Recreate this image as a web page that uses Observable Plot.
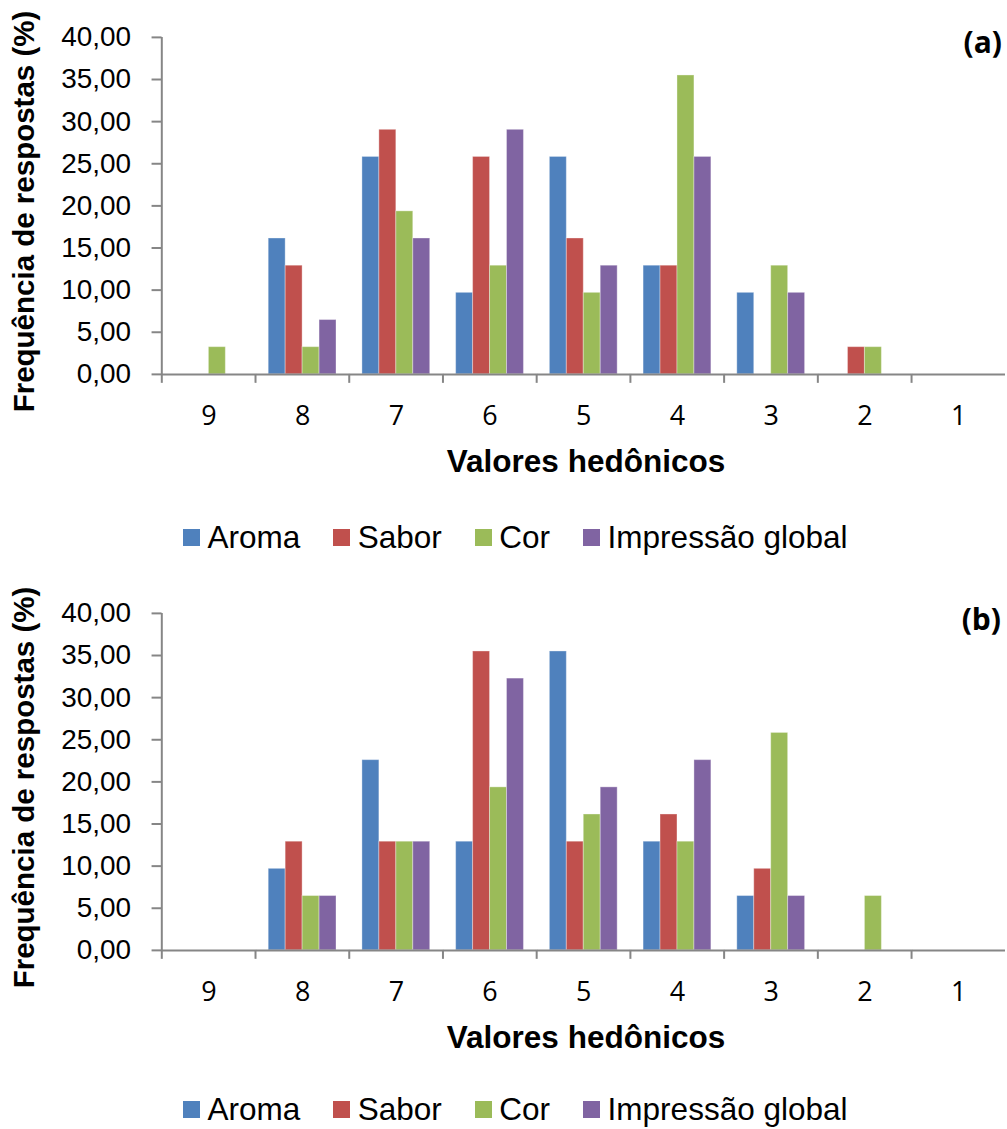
<!DOCTYPE html>
<html>
<head>
<meta charset="utf-8">
<script src="https://cdn.jsdelivr.net/npm/d3@7"></script>
<script src="https://cdn.jsdelivr.net/npm/@observablehq/plot@0.6"></script>
<style>
  body { margin: 0; background: #fff; }
  #root { position: relative; width: 1007px; height: 1129px; overflow: hidden; background: #fff; }
  .panel { position: absolute; left: 0; }
  .legend { position: absolute; left: 183px; display: flex; align-items: center; height: 31px;
            font-family: "Liberation Sans", Arial, sans-serif; font-size: 31.5px; line-height: 31px; color: #000; white-space: nowrap; }
  .legend .item { display: flex; align-items: center; margin-right: 33px; }
  .legend .sw { width: 17px; height: 17px; margin-right: 7.5px; }
  #overlay { position: absolute; left: 0; top: 0; pointer-events: none; }
</style>
</head>
<body>
<div id="root">
  <div class="panel" id="panelA" style="top:0px"></div>
  <div class="legend" id="legendA" style="top:522px"></div>
  <div class="panel" id="panelB" style="top:576px"></div>
  <div class="legend" id="legendB" style="top:1094px"></div>
  <svg id="overlay" width="1007" height="1129">
    <g font-family="Liberation Sans, Arial, sans-serif" font-weight="bold" fill="#000">
      <text id="ytA" font-size="29.5" text-anchor="middle" transform="translate(34,211.5) rotate(-90)"></text>
      <text id="xtA" font-size="31.5" text-anchor="middle" x="586" y="472"></text>
      <text id="ytB" font-size="29.5" text-anchor="middle" transform="translate(34,787.5) rotate(-90)"></text>
      <text id="xtB" font-size="31.5" text-anchor="middle" x="586" y="1048"></text>
    </g>
    <g font-family="Open Sans, sans-serif" font-weight="bold" fill="#000" font-size="30" text-anchor="end">
      <text id="tagA" x="1002" y="53"></text>
      <text id="tagB" x="1001" y="630"></text>
    </g>
  </svg>
</div>
<script>
// ---- Data ----
const categories = ["9", "8", "7", "6", "5", "4", "3", "2", "1"];
const series = ["Aroma", "Sabor", "Cor", "Impressão global"];
const colors = ["#4F81BD", "#C0504D", "#9BBB59", "#8064A2"];
const yTicks = [0, 5, 10, 15, 20, 25, 30, 35, 40];
const yTitle = "Frequência de respostas (%)";
const xTitle = "Valores hedônicos";
const panelTags = ["(a)", "(b)"];

// Panel (a)
const aromaA  = [0, 16.13, 25.81, 9.68, 25.81, 12.90, 9.68, 0, 0];
const saborA  = [0, 12.90, 29.03, 25.81, 16.13, 12.90, 0, 3.23, 0];
const corA    = [3.23, 3.23, 19.35, 12.90, 9.68, 35.48, 12.90, 3.23, 0];
const globalA = [0, 6.45, 16.13, 29.03, 12.90, 25.81, 9.68, 0, 0];
// Panel (b)
const aromaB  = [0, 9.68, 22.58, 12.90, 35.48, 12.90, 6.45, 0, 0];
const saborB  = [0, 12.90, 12.90, 35.48, 12.90, 16.13, 9.68, 0, 0];
const corB    = [0, 6.45, 12.90, 19.35, 16.13, 12.90, 25.81, 6.45, 0];
const globalB = [0, 6.45, 12.90, 32.26, 19.35, 22.58, 6.45, 0, 0];

function toRows(arrs) {
  const rows = [];
  categories.forEach((c, i) => series.forEach((s, j) => rows.push({cat: c, series: s, value: arrs[j][i]})));
  return rows;
}

const W = 1010, ML = 160;
const band = (W - ML) / categories.length;
const gray = "#868686";

function chart(rows) {
  return Plot.plot({
    width: W, height: 440,
    marginLeft: ML, marginRight: 0, marginTop: 37, marginBottom: 65,
    style: {background: "transparent", fontFamily: '"Liberation Sans", Arial, sans-serif', fontSize: "28px", color: "#000", overflow: "visible"},
    fx: {domain: categories, padding: 0, label: null},
    x: {domain: series, paddingInner: 0, paddingOuter: 0.72, axis: null},
    y: {domain: [0, 40], label: null},
    color: {domain: series, range: colors},
    marks: [
      Plot.barY(rows, {fx: "cat", x: "series", y: "value", fill: "series", stroke: "#fff", strokeOpacity: 0.35, strokeWidth: 1}),
      Plot.ruleY([0], {stroke: gray, strokeWidth: 2}),
      // vertical value axis line, only in the first (leftmost) facet
      Plot.ruleX([categories[0]], {fx: d => d, x: null, dx: -band / 2, stroke: gray, strokeWidth: 2}),
      Plot.axisY({ticks: yTicks, tickSize: 10, tickPadding: 21, tickFormat: d => d.toFixed(2).replace(".", ","),
                  stroke: gray, strokeWidth: 2, fontSize: 28, fill: "#000", label: null}),
      Plot.axisFx({anchor: "bottom", tickSize: 9, text: null, dx: -band / 2, stroke: gray, strokeWidth: 2, label: null}),
      Plot.axisFx({anchor: "bottom", tickSize: 0, tickPadding: 32, fontFamily: '"Open Sans", sans-serif', fontSize: 27, fill: "#000", label: null})
    ]
  });
}

document.getElementById("panelA").appendChild(chart(toRows([aromaA, saborA, corA, globalA])));
document.getElementById("panelB").appendChild(chart(toRows([aromaB, saborB, corB, globalB])));

function legend(el) {
  series.forEach((s, i) => {
    const item = document.createElement("div");
    item.className = "item";
    const sw = document.createElement("div");
    sw.className = "sw";
    sw.style.background = colors[i];
    const t = document.createElement("span");
    t.textContent = s;
    item.appendChild(sw); item.appendChild(t);
    el.appendChild(item);
  });
}
legend(document.getElementById("legendA"));
legend(document.getElementById("legendB"));

document.getElementById("ytA").textContent = yTitle;
document.getElementById("ytB").textContent = yTitle;
document.getElementById("xtA").textContent = xTitle;
document.getElementById("xtB").textContent = xTitle;
document.getElementById("tagA").textContent = panelTags[0];
document.getElementById("tagB").textContent = panelTags[1];
</script>
</body>
</html>
